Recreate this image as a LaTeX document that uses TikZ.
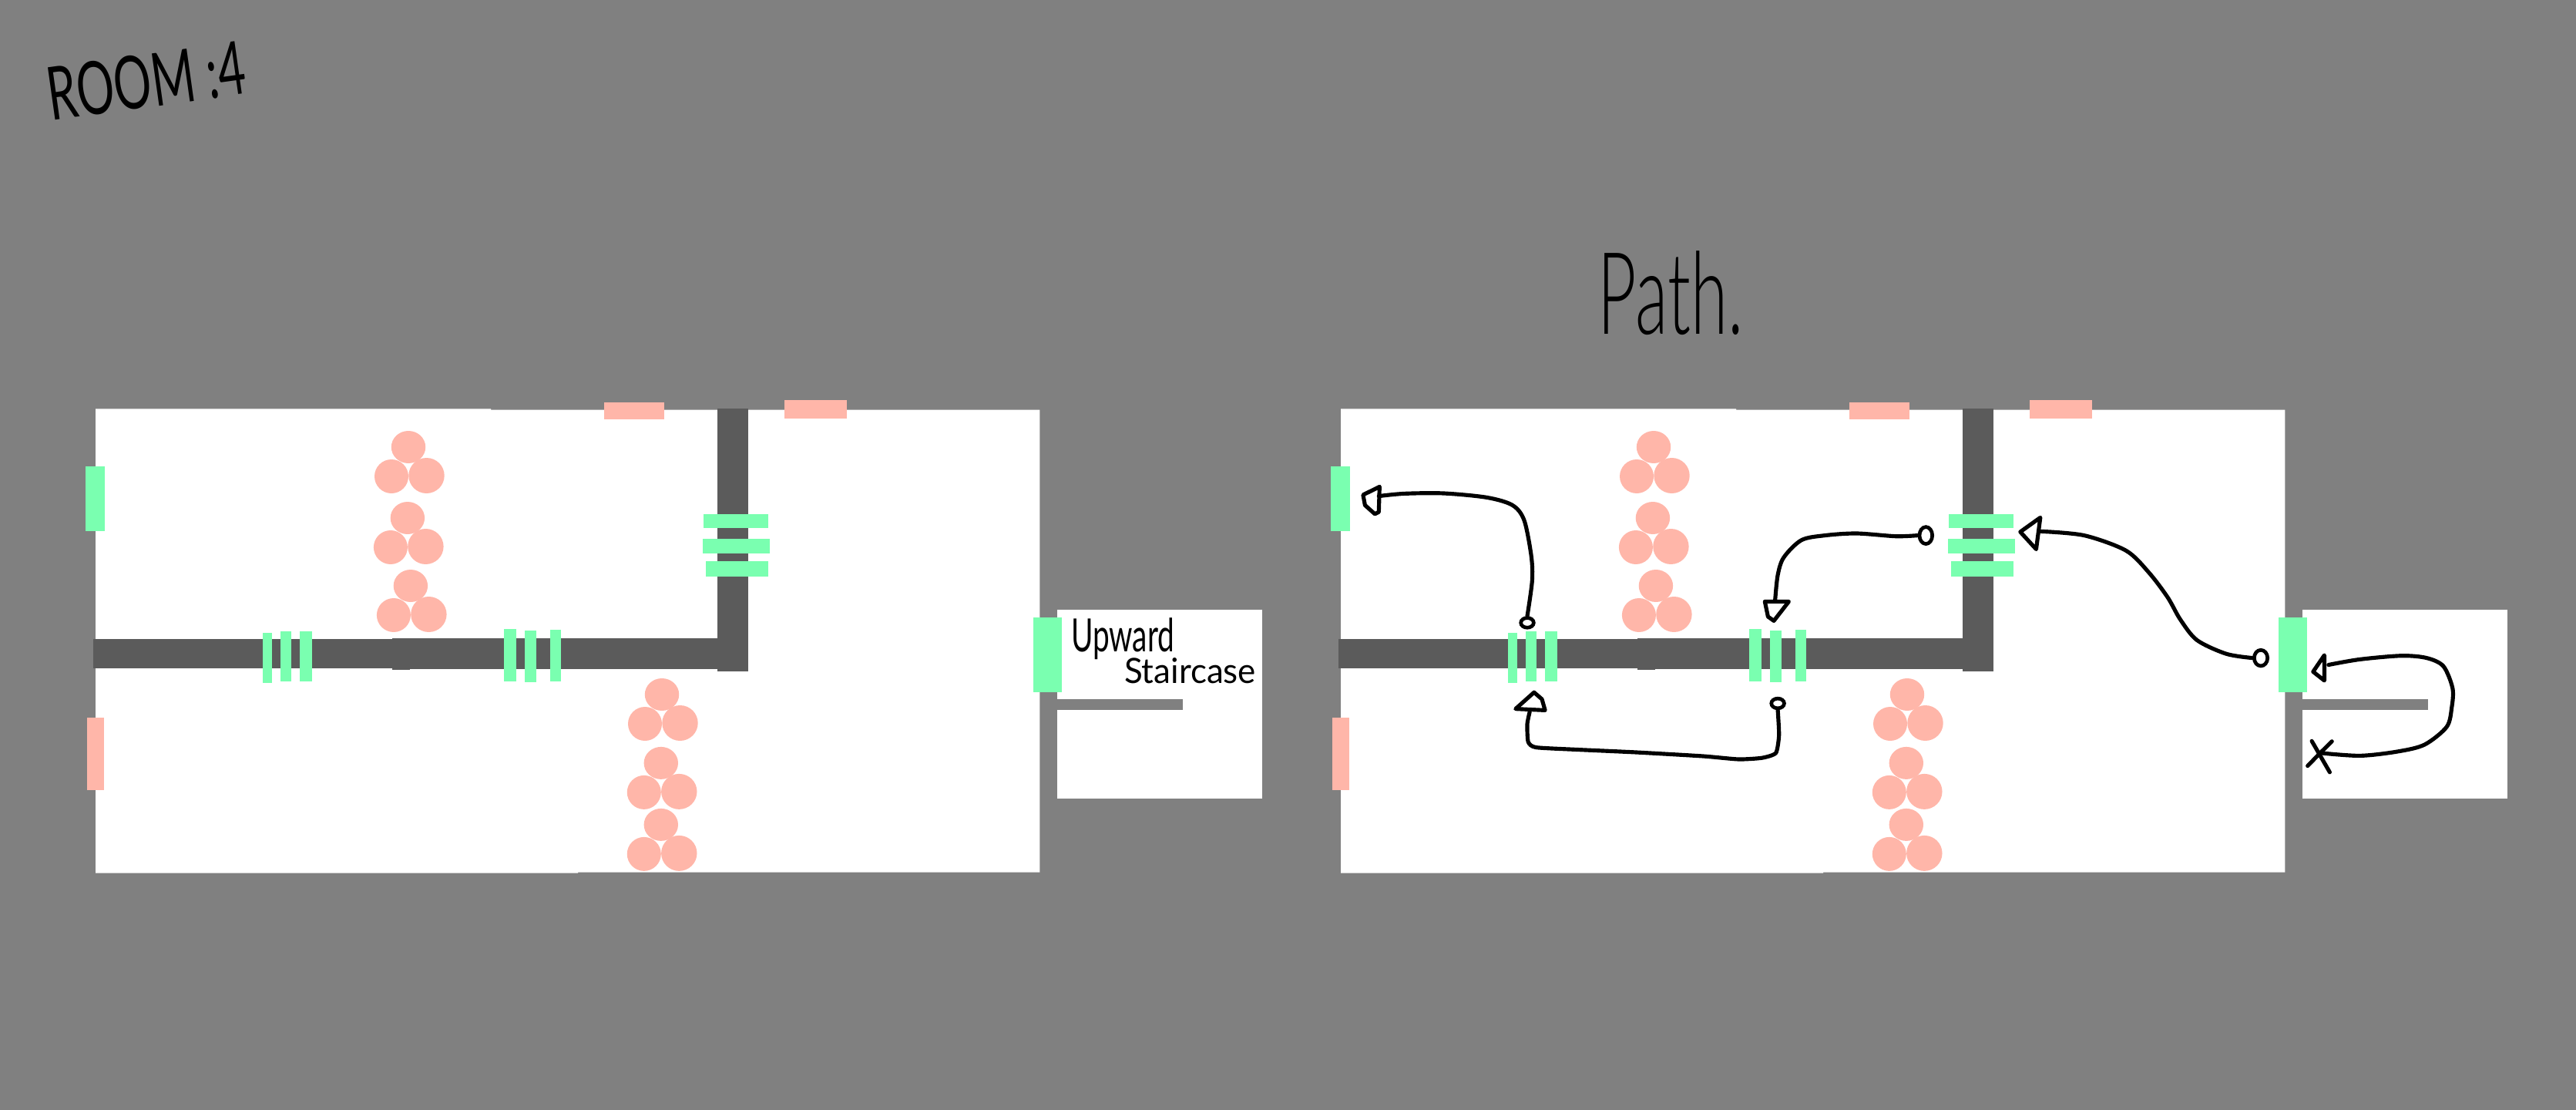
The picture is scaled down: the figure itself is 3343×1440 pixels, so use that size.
\documentclass[tikz,border=0pt]{standalone}
\usepackage{fontspec}
\usepackage{graphicx}
\usetikzlibrary{shapes.geometric}
\newfontfamily\handfont{Lato}
\newfontfamily\handlight{Lato Light}
\definecolor{bggray}{HTML}{808080}
\definecolor{wallgray}{HTML}{5B5B5B}
\definecolor{doorgreen}{HTML}{7AFFB0}
\definecolor{salmon}{HTML}{FFB6A9}
\tikzset{
  room/.style={fill=white},
  wall/.style={fill=wallgray},
  door/.style={fill=doorgreen},
  locked/.style={fill=salmon},
  pen/.style={draw=black,line width=4.4pt,line cap=round,line join=round},
  penend/.style={ellipse,draw=black,line width=4pt,inner sep=0pt,fill=none},
  hand/.style={inner sep=0pt,outer sep=0pt,text=black,font=\handfont}
}
\newcommand{\clump}[2]{%
  \fill[locked] (#1,#2) ellipse [x radius=22.2,y radius=21];
  \fill[locked] (#1-22,#2+38) ellipse [x radius=22,y radius=22];
  \fill[locked] (#1+23.5,#2+37) ellipse [x radius=23.2,y radius=23];
}
\newcommand{\planbody}{%
  % rooms
  \fill[room] (124.2,530.3) -- (637,530.3) -- (637,531.6) -- (1349.4,531.6) -- (1349.4,1131.6) -- (750,1131.6) -- (750,1132.6) -- (124.2,1132.6) -- cycle;
  \fill[room] (1372.3,790.8) rectangle (1637.7,1035.8);
  \fill[bggray] (1372.3,906.6) rectangle (1535,920.9);
  % walls
  \fill[wall] (120.8,829) rectangle (532.4,867);
  \fill[wall] (509.4,828) rectangle (931,868.3);
  \fill[wall] (509.4,868) rectangle (532.4,869);
  \fill[wall] (931,529.5) rectangle (971.3,870.8);
  % locked doors
  \fill[locked] (784.4,521.5) rectangle (861.9,543.8);
  \fill[locked] (1017.8,518.5) rectangle (1098.9,542.9);
  \fill[locked] (112.7,931) rectangle (134.5,1024.8);
  % doors
  \fill[door] (111,604.8) rectangle (136.3,689);
  \fill[door] (341.2,820.7) rectangle (353.3,885.5);
  \fill[door] (364.2,819) rectangle (377.9,883.8);
  \fill[door] (389.4,819) rectangle (404.9,883.8);
  \fill[door] (654,816) rectangle (670.1,883.8);
  \fill[door] (680.5,817.8) rectangle (696,885);
  \fill[door] (714.3,817) rectangle (727.5,883.8);
  \fill[door] (913.2,667) rectangle (996.8,684.8);
  \fill[door] (912,699) rectangle (999.4,718.4);
  \fill[door] (916,727.7) rectangle (996.8,747.5);
  \fill[door] (1340.7,801.3) rectangle (1378,897.7);
  % clusters
  \clump{530}{580}
  \clump{528.9}{672}
  \clump{532.9}{760}
  \clump{859}{901}
  \clump{857.8}{989.9}
  \clump{857.8}{1069.9}
}
\begin{document}
\begin{tikzpicture}[x=0.03cm,y=-0.03cm]
  \useasboundingbox (0,0) rectangle (3343,1440);
  \fill[bggray] (0,0) rectangle (3343,1440);

  \planbody
  \begin{scope}[shift={(1616,0)}]
    \planbody
  \end{scope}

  % titles
  \node[hand,rotate=8] (roomtitle) at (190,105) {\resizebox*{7.75cm}{2.1cm}{ROOM :4}};
  \node[hand,font=\handlight] (pathtitle) at (2168,380.5) {\resizebox*{5.67cm}{3.27cm}{Path.}};
  \node[hand] (upward) at (1457,829) {\resizebox*{4.02cm}{1.62cm}{Upward}};
  \node[hand] (staircase) at (1544.5,870) {\resizebox*{5.13cm}{1.0cm}{Staircase}};

  % path start markers
  \node[penend,minimum width=0.5cm,minimum height=0.38cm] (s1) at (1982,807.9) {};
  \node[penend,minimum width=0.5cm,minimum height=0.66cm] (s2) at (2499.3,694.6) {};
  \node[penend,minimum width=0.5cm,minimum height=0.38cm] (s3) at (2307.1,912.5) {};
  \node[penend,minimum width=0.52cm,minimum height=0.62cm] (s4) at (2934,853.6) {};

  % arrow ends
  \coordinate (e1) at (1789.3,643.6);
  \coordinate (e2) at (2303.6,779.3);
  \coordinate (e3) at (1985.2,923.2);
  \coordinate (e4) at (2647.8,689.3);
  \coordinate (e5) at (3021.8,862.5);
  \coordinate (xmid) at (3011,976.8);

  % connectors
  \draw[pen] plot[smooth,tension=0.5] coordinates {(s1.north) (1988.3,753.6) (1987.2,721.4) (1978,675) (1962.8,655.4) (1929.6,645.4) (1873.5,640) (1822.4,640.4) (e1)};
  \draw[pen] plot[smooth,tension=0.5] coordinates {(s2.west) (2460.2,695.7) (2409.2,692) (2368.4,694.6) (2337.8,700.7) (2314.8,723.2) (2307,746.4) (e2)};
  \draw[pen] plot[smooth,tension=0.35] coordinates {(s3.south) (2308.7,953.6) (2304.6,976.8) (2286.7,983.2) (2256.1,985) (2210.2,981) (2123.5,976) (2047,972.5) (1993.4,969.6) (1983.2,962.5) (1982,939.3) (e3)};
  \draw[pen] plot[smooth,tension=0.5] coordinates {(s4.west) (2889,848.2) (2851,830.4) (2829.4,803.6) (2813.1,775) (2788.8,742.9) (2759,714.3) (2704.7,694.6) (e4)};
  \draw[pen] plot[smooth,tension=0.5] coordinates {(xmid) (3062.5,980.4) (3111.2,975) (3146.5,966) (3175.2,942.9) (3181.7,917.9) (3182.8,892.9) (3170.9,864.3) (3149.2,853.6) (3116.7,850.7) (3062.5,855.4) (e5)};

  % arrowheads
  \draw[pen] (1790.3,631.4) -- (1768.9,642) -- (1771.4,655.4) -- (1784.2,666.8) -- (1789.3,664.3) -- cycle;
  \draw[pen] (2290.3,780.4) -- (2321.4,780.4) -- (2302,805.4) -- (2294.4,800) -- cycle;
  \draw[pen] (1966.8,919.6) -- (1990.8,898.2) -- (2001,907) -- (2005.1,921.4) -- cycle;
  \draw[pen] (2647.8,671.4) -- (2621.8,690) -- (2642.4,712.5) -- cycle;
  \draw[pen] (3016.4,850) -- (3001.8,871.4) -- (3016.4,882.9) -- cycle;

  % end cross
  \draw[pen] (3000.1,961.4) -- (3023.4,1001.8);
  \draw[pen] (3026.2,961.8) -- (xmid) -- (2994.7,993.6);
\end{tikzpicture}
\end{document}
